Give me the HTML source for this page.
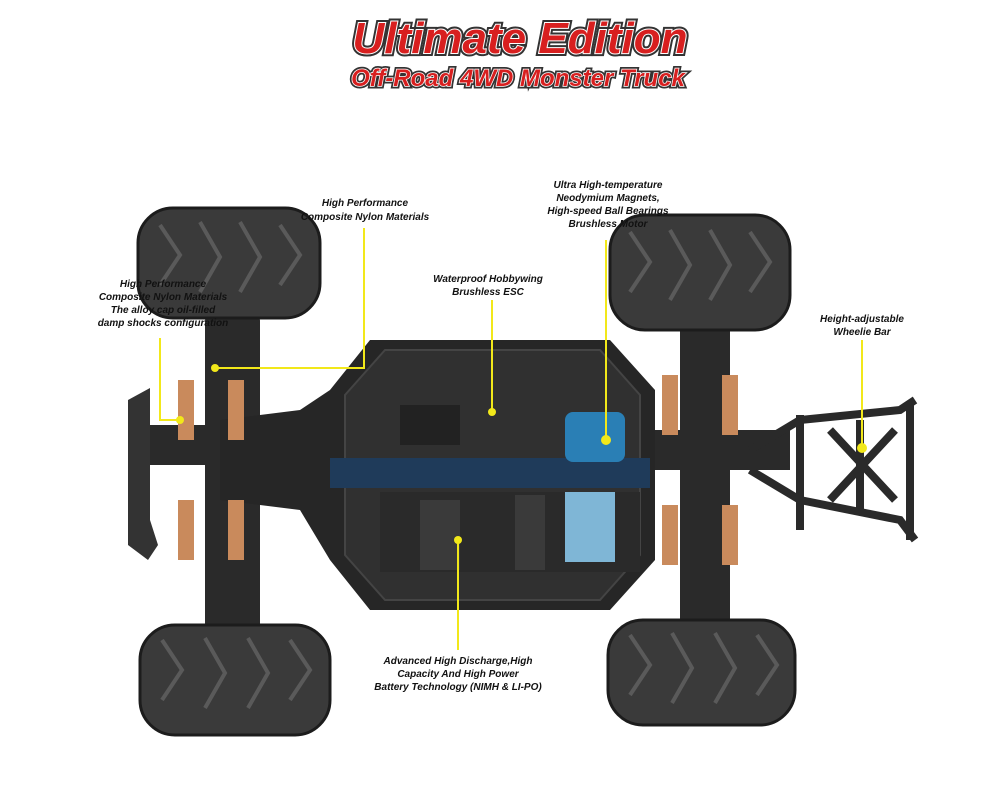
<!DOCTYPE html>
<html><head><style>
html,body{margin:0;padding:0;background:#fff;}
svg{display:block;}
.lb{font-family:"Liberation Sans",sans-serif;font-weight:bold;font-style:italic;font-size:10px;fill:#111;text-anchor:middle;}
.ti{font-family:"Liberation Sans",sans-serif;font-weight:900;font-style:italic;text-anchor:middle;fill:#d81f1f;stroke:#222;stroke-width:1.5;paint-order:stroke;}
.yl{stroke:#f2e81a;stroke-width:2;fill:none;}
.tire{fill:#3a3a3a;stroke:#1c1c1c;stroke-width:3;}
.tread{stroke:#5a5a5a;stroke-width:4;fill:none;}
</style></head><body>
<svg width="1000" height="792" viewBox="0 0 1000 792">
<rect width="1000" height="792" fill="#fff"/>
<text x="520" y="53" class="ti" font-size="44" style="stroke-width:6;stroke:#333">Ultimate Edition</text>
<text x="520" y="53" class="ti" font-size="44" style="stroke:#fff;stroke-width:2">Ultimate Edition</text>
<text x="518" y="86" class="ti" font-size="24" style="stroke-width:5;stroke:#333">Off-Road 4WD Monster Truck</text>
<text x="518" y="86" class="ti" font-size="24" style="stroke:#fff;stroke-width:1.5">Off-Road 4WD Monster Truck</text>

<!-- suspension arms / axles -->
<g fill="#2a2a2a">
<rect x="205" y="315" width="55" height="320" rx="6"/>
<rect x="680" y="320" width="50" height="310" rx="6"/>
<rect x="150" y="425" width="150" height="40"/>
<rect x="640" y="430" width="150" height="40"/>
</g>
<!-- tires -->
<rect class="tire" x="138" y="208" width="182" height="110" rx="35"/>
<rect class="tire" x="610" y="215" width="180" height="115" rx="35"/>
<rect class="tire" x="140" y="625" width="190" height="110" rx="35"/>
<rect class="tire" x="608" y="620" width="187" height="105" rx="35"/>
<g class="tread">
<path d="M160 225 l20 30 l-20 30 M200 222 l20 35 l-20 35 M240 222 l20 35 l-20 35 M280 225 l20 30 l-20 30"/>
<path d="M630 232 l20 30 l-20 30 M670 230 l20 35 l-20 35 M710 230 l20 35 l-20 35 M750 232 l20 30 l-20 30"/>
<path d="M162 640 l20 30 l-20 30 M205 638 l20 35 l-20 35 M248 638 l20 35 l-20 35 M290 640 l20 30 l-20 30"/>
<path d="M630 635 l20 30 l-20 30 M672 633 l20 35 l-20 35 M715 633 l20 35 l-20 35 M757 635 l20 30 l-20 30"/>
</g>
<!-- front bumper -->
<path d="M150 388 L128 400 L128 545 L148 560 L158 545 L150 520 L150 420 Z" fill="#333"/>
<!-- chassis -->
<path d="M370 340 L610 340 L655 390 L655 560 L610 610 L370 610 L330 560 L300 510 L220 500 L220 420 L300 410 L330 390 Z" fill="#262626"/>
<path d="M385 350 L600 350 L640 395 L640 555 L600 600 L385 600 L345 555 L345 395 Z" fill="#303030" stroke="#444" stroke-width="2"/>
<rect x="330" y="458" width="320" height="30" fill="#1f3b5a"/>
<rect x="380" y="492" width="260" height="80" fill="#2a2a2a"/>
<rect x="565" y="492" width="50" height="70" fill="#7fb6d6"/>
<rect x="565" y="412" width="60" height="50" rx="8" fill="#2a7fb5"/>
<rect x="420" y="500" width="40" height="70" fill="#3a3a3a"/>
<rect x="515" y="495" width="30" height="75" fill="#3a3a3a"/>
<rect x="400" y="405" width="60" height="40" fill="#222"/>
<!-- shocks -->
<g fill="#c98a5c">
<rect x="178" y="380" width="16" height="60"/><rect x="228" y="380" width="16" height="60"/>
<rect x="178" y="500" width="16" height="60"/><rect x="228" y="500" width="16" height="60"/>
<rect x="662" y="375" width="16" height="60"/><rect x="722" y="375" width="16" height="60"/>
<rect x="662" y="505" width="16" height="60"/><rect x="722" y="505" width="16" height="60"/>
</g>
<!-- rear wheelie bar -->
<g stroke="#2a2a2a" stroke-width="8" fill="none">
<path d="M750 450 L800 420 L900 410 L915 400 M750 470 L800 500 L900 520 L915 540"/>
<path d="M800 415 L800 530 M910 405 L910 540 M860 420 L860 515 M830 430 L895 500 M895 430 L830 500"/>
</g>
<!-- yellow leader lines -->
<path class="yl" d="M364 228 L364 368 L215 368"/>
<path class="yl" d="M160 338 L160 420 L180 420"/>
<path class="yl" d="M492 300 L492 412"/>
<path class="yl" d="M606 240 L606 440"/>
<path class="yl" d="M862 340 L862 448"/>
<path class="yl" d="M458 540 L458 650"/>
<g fill="#f2e81a"><circle cx="215" cy="368" r="4"/><circle cx="180" cy="420" r="4"/><circle cx="492" cy="412" r="4"/><circle cx="606" cy="440" r="5"/><circle cx="862" cy="448" r="5"/><circle cx="458" cy="540" r="4"/></g>
<!-- labels -->
<text class="lb" x="365" y="206">High Performance</text>
<text class="lb" x="365" y="220">Composite Nylon Materials</text>
<text class="lb" x="163" y="287">High Performance</text>
<text class="lb" x="163" y="300">Composite Nylon Materials</text>
<text class="lb" x="163" y="313">The alloy cap oil-filled</text>
<text class="lb" x="163" y="326">damp shocks configuration</text>
<text class="lb" x="488" y="282">Waterproof Hobbywing</text>
<text class="lb" x="488" y="295">Brushless ESC</text>
<text class="lb" x="608" y="188">Ultra High-temperature</text>
<text class="lb" x="608" y="201">Neodymium Magnets,</text>
<text class="lb" x="608" y="214">High-speed Ball Bearings</text>
<text class="lb" x="608" y="227">Brushless Motor</text>
<text class="lb" x="862" y="322">Height-adjustable</text>
<text class="lb" x="862" y="335">Wheelie Bar</text>
<text class="lb" x="458" y="664">Advanced High Discharge,High</text>
<text class="lb" x="458" y="677">Capacity And High Power</text>
<text class="lb" x="458" y="690">Battery Technology (NIMH &amp; LI-PO)</text>
</svg>
</body></html>
